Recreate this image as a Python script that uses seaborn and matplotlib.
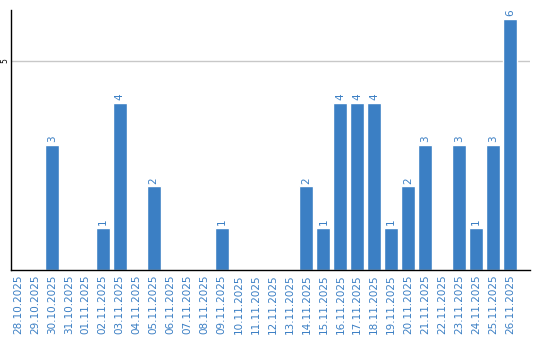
import matplotlib
matplotlib.use("Agg")
import matplotlib.pyplot as plt
import seaborn as sns
import pandas as pd

dates = ["28.10.2025", "29.10.2025", "30.10.2025", "31.10.2025", "01.11.2025",
         "02.11.2025", "03.11.2025", "04.11.2025", "05.11.2025", "06.11.2025",
         "07.11.2025", "08.11.2025", "09.11.2025", "10.11.2025", "11.11.2025",
         "12.11.2025", "13.11.2025", "14.11.2025", "15.11.2025", "16.11.2025",
         "17.11.2025", "18.11.2025", "19.11.2025", "20.11.2025", "21.11.2025",
         "22.11.2025", "23.11.2025", "24.11.2025", "25.11.2025", "26.11.2025"]
counts = [0, 0, 3, 0, 0, 1, 4, 0, 2, 0, 0, 0, 1, 0, 0, 0, 0, 2, 1, 4,
          4, 4, 1, 2, 3, 0, 3, 1, 3, 6]
y_ticks = [5]

BLUE = "#3b7fc4"

sns.set_theme(style="white")
plt.rcParams['font.family'] = ['DejaVu Sans']

df = pd.DataFrame({"date": dates, "count": counts})

fig = plt.figure(figsize=(5.4, 3.4), dpi=100)
ax = fig.add_axes([11/540, 70/340, 519/540, 260/340])

sns.barplot(data=df, x="date", y="count", color=BLUE, saturation=1,
            width=0.82, ax=ax, order=dates)

ax.set_xlim(-0.41, 30.18)
ax.set_ylim(0, 6.22)
ax.set_yticks(y_ticks)
ax.set_yticklabels([str(v) for v in y_ticks], rotation=90, va="center",
                   fontsize=5.5, color="black")
ax.yaxis.grid(True, color="#c8c8c8", linewidth=1)
ax.set_axisbelow(True)
ax.tick_params(axis="y", length=0, pad=1)
ax.tick_params(axis="x", length=0, pad=3)
ax.set_xticks(range(len(dates)))
ax.set_xticklabels(dates, rotation=90, fontsize=7.5, color=BLUE)
ax.set_xlabel("")
ax.set_ylabel("")

for s in ["top", "right"]:
    ax.spines[s].set_visible(False)
for s in ["left", "bottom"]:
    ax.spines[s].set_visible(True)
    ax.spines[s].set_color("black")
    ax.spines[s].set_linewidth(1.0)

for cont in ax.containers:
    labels = [str(int(v)) if v > 0 else "" for v in cont.datavalues]
    ax.bar_label(cont, labels=labels, rotation=90, padding=2,
                 fontsize=7.5, color=BLUE)

fig.savefig("out.png", dpi=100)
